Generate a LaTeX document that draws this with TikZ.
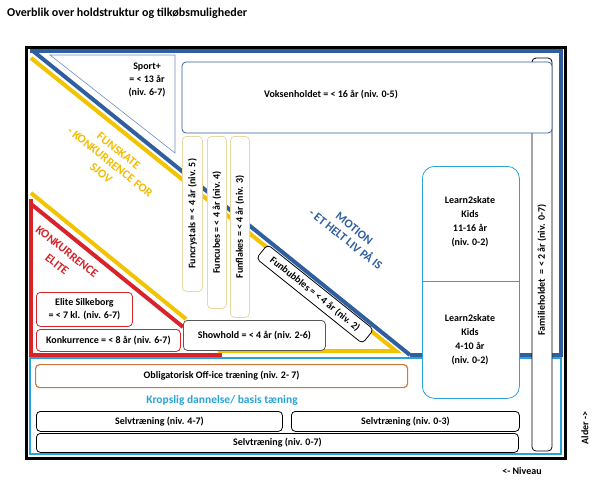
\documentclass[tikz,border=0pt]{standalone}
\usepackage{fontspec}
\setmainfont{Carlito}
\definecolor{dblue}{HTML}{2F5F9F}
\definecolor{fyellow}{HTML}{F2C300}
\definecolor{fred}{HTML}{D8232A}
\definecolor{lblue}{HTML}{2BA3D6}
\definecolor{forange}{HTML}{C97B3E}
\definecolor{fbox}{HTML}{E8D9A0}
\begin{document}
\begin{tikzpicture}[x=1pt, y=-1pt,
  every node/.style={font=\fontsize{10}{12}\selectfont\bfseries, align=center, inner sep=1pt},
  box/.style={draw, fill=white, rounded corners=4pt, line width=0.8pt},
  funbox/.style={box, draw=fbox, rotate=90},
  label/.style={font=\fontsize{12}{14}\selectfont\bfseries, rotate=-38.7}]

\useasboundingbox (0,0) rectangle (600,483);

% Title
\node[anchor=west, font=\fontsize{12}{14}\selectfont\bfseries] (title) at (6,13) {Overblik over holdstruktur og tilkøbsmuligheder};

% Frames
\draw[lblue, line width=2.5pt] (30,358) rectangle (561,454);
\draw[dblue, line width=3.5pt] (30,51) -- (561,51) -- (561,355) -- (410,355);
\draw[fred, line width=4pt] (31,199) -- (31,355) -- (222,355);
\draw[fred, line width=4pt] (31,204) -- (183,327);
\draw[fyellow, line width=4pt] (31,193) -- (186,319);
\draw[fyellow, line width=4pt] (31,58) -- (396,351) -- (218,351);
\draw[dblue, line width=4pt] (33,51) -- (410,355);
\draw[black, line width=3pt] (26,47) rectangle (565,458);
\draw[dblue!70, line width=0.6pt] (50,55) -- (175,55) -- (175,153) -- cycle;

% Region labels
\node[label, text=fyellow!90!orange] (funskate) at (110,162) {FUNSKATE\\- KONKURRENCE FOR\\SJOV};
\node[label, text=fred] (konk) at (62,258) {KONKURRENCE\\[2pt]ELITE};
\node[label, text=dblue] (motion) at (350,234) {MOTION\\- ET HELT LIV PÅ IS};

% Teams
\node (sport) at (147,80) {Sport+\\[1pt]= < 13 år\\[1pt](niv. 6-7)};
\node[box, rotate=90, minimum width=393, minimum height=20] (familie) at (542,254.5) {};
\node[rotate=90] (famtxt) at (542,270) {Familieholdet \ = < 2 år (niv. 0-7)};
\node[box, draw=dblue, minimum width=370, minimum height=71] (voksen) at (367,97.5) {};
\node (vokstxt) at (331,95) {Voksenholdet = < 16 år (niv. 0-5)};

\node[funbox, minimum width=155, minimum height=20, anchor=north east] (crystals) at (182,136) {Funcrystals = < 4 år (niv. 5)};
\node[funbox, minimum width=172, minimum height=19, anchor=north east] (cubes) at (207,136) {Funcubes = < 4 år (niv. 4)};
\node[funbox, minimum width=181, minimum height=19, anchor=north east] (flakes) at (230,136) {Funflakes = < 4 år (niv. 3)};
\node[box, rotate=-38.7, minimum width=136, minimum height=18] (bubbles) at (315,294) {Funbubbles = < 4 år (niv. 2)};
\node[box, draw=gray!70!black, minimum width=142, minimum height=30, anchor=north west] (show) at (183,320) {Showhold = < 4 år (niv. 2-6)};

\node[box, draw=fred, minimum width=96, minimum height=34, anchor=north west] (elite) at (36,292) {Elite Silkeborg\\[1pt]= < 7 kl. (niv. 6-7)};
\node[box, draw=fred, minimum width=144, minimum height=22, anchor=north west] (konkbox) at (36,329) {Konkurrence = < 8 år (niv. 6-7)};

\node[box, draw=lblue, rounded corners=12pt, minimum width=97, minimum height=232, anchor=north west] (learn) at (422,166) {};
\draw[lblue, line width=0.6pt] (learn.west |- 0,281) -- (learn.east |- 0,281);
\node (learnA) at (470,222) {Learn2skate\\[2pt]Kids\\[2pt]11-16 år\\[2pt](niv. 0-2)};
\node (learnB) at (470,340) {Learn2skate\\[2pt]Kids\\[2pt]4-10 år\\[2pt](niv. 0-2)};

% Lower part
\node[box, draw=forange, line width=1.2pt, minimum width=372, minimum height=23, anchor=north west] (office) at (35,364) {Obligatorisk Off-ice træning (niv. 2- 7)};
\node[text=lblue, font=\fontsize{11.5}{13}\selectfont\bfseries] (krop) at (222,400) {Kropslig dannelse/ basis tæning};
\node[box, minimum width=246, minimum height=20, anchor=north west] (selvA) at (36,411) {Selvtræning (niv. 4-7)};
\node[box, minimum width=228, minimum height=20, anchor=north west] (selvB) at (291,411) {Selvtræning (niv. 0-3)};
\node[box, minimum width=482, minimum height=19, anchor=north west] (selvC) at (36,433) {Selvtræning (niv. 0-7)};

\node[rotate=90] (alder) at (585,428) {Alder ->};
\node (niveau) at (522,471) {<- Niveau};

\end{tikzpicture}
\end{document}
